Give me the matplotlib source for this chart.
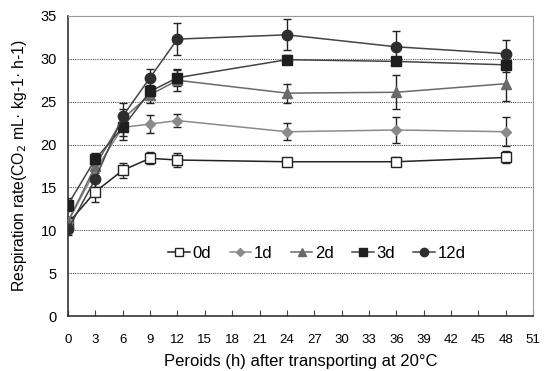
import matplotlib
matplotlib.use('Agg')
import matplotlib.pyplot as plt

plt.rcParams['font.family'] = ['Liberation Sans', 'DejaVu Sans']

hours = [0, 3, 6, 9, 12, 24, 36, 48]
labels = ['0d', '1d', '2d', '3d', '12d']

# respiration rate and error bars
r_0d = [10.8, 14.5, 17.0, 18.4, 18.2, 18.0, 18.0, 18.5]
e_0d = [0.7, 1.2, 0.9, 0.7, 0.8, 0.3, 0.5, 0.7]
r_1d = [11.0, 17.0, 22.0, 22.4, 22.8, 21.5, 21.7, 21.5]
e_1d = [0.6, 0.8, 1.0, 1.0, 0.8, 1.0, 1.5, 1.7]
r_2d = [11.0, 17.5, 23.0, 25.8, 27.5, 26.0, 26.1, 27.1]
e_2d = [0.6, 0.8, 1.2, 1.0, 1.2, 1.1, 2.0, 2.0]
r_3d = [13.0, 18.3, 22.0, 26.2, 27.8, 29.9, 29.7, 29.3]
e_3d = [0.8, 0.7, 1.5, 0.7, 1.0, 0.5, 0.4, 0.8]
r_12d = [10.1, 16.0, 23.3, 27.8, 32.3, 32.8, 31.4, 30.6]
e_12d = [0.6, 1.0, 1.5, 1.0, 1.9, 1.8, 1.8, 1.6]

fig = plt.figure(figsize=(5.48, 3.71), dpi=100)
ax = fig.add_axes([0.124, 0.148, 0.849, 0.809])

series = [
    (r_0d, e_0d, 's', 'white', '#222222', '#222222', 7),
    (r_1d, e_1d, 'D', '#8a8a8a', '#8a8a8a', '#8a8a8a', 5),
    (r_2d, e_2d, '^', '#6a6a6a', '#6a6a6a', '#6a6a6a', 7),
    (r_3d, e_3d, 's', '#1e1e1e', '#1e1e1e', '#444444', 7),
    (r_12d, e_12d, 'o', '#2e2e2e', '#2e2e2e', '#444444', 7.5),
]
for (vals, errs, mk, fc, ec, lc, ms), lab in zip(series, labels):
    ax.errorbar(hours, vals, yerr=errs, marker=mk, ms=ms, mfc=fc, mec=ec,
                color=lc, lw=1.1, ecolor='#222222', elinewidth=1.0,
                capsize=3, capthick=1.0, label=lab, zorder=3)

ax.set_xlim(0, 51)
ax.set_ylim(0, 35)
ax.set_xticks(range(0, 52, 3))
ax.set_yticks(range(0, 36, 5))
ax.tick_params(axis='x', direction='in', length=4, pad=13, labelsize=9.5, color='#444444')
ax.tick_params(axis='y', length=0, pad=8, labelsize=10.5)
for y in range(5, 35, 5):
    ax.axhline(y, color='#555555', lw=0.8, ls=(0, (1, 1)), zorder=1)

for s in ['top', 'right']:
    ax.spines[s].set_color('#999999')
for s in ['left', 'bottom']:
    ax.spines[s].set_color('#333333')
    ax.spines[s].set_linewidth(1.2)

ax.set_xlabel('Peroids (h) after transporting at 20°C', fontsize=12, labelpad=6)
ax.set_ylabel('Respiration rate(CO$_2$ mL· kg-1· h-1)', fontsize=11.3, labelpad=8)

handles, labs = ax.get_legend_handles_labels()
handles = [h[0] for h in handles]
ax.legend(handles, labs, loc='center', bbox_to_anchor=(0.535, 0.21), ncol=5,
          frameon=False, fontsize=12, handlelength=1.3, handletextpad=0.15,
          columnspacing=1.1, markerscale=0.8)

fig.savefig('out.png', dpi=100)
